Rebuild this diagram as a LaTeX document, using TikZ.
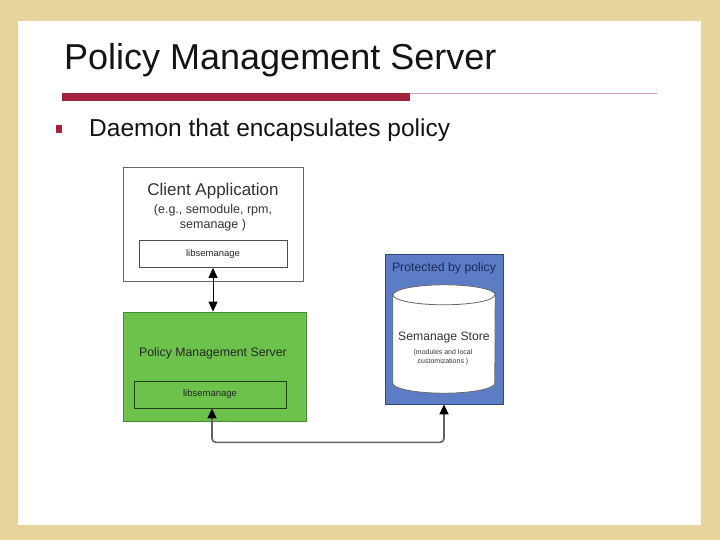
\documentclass[tikz,border=0pt]{standalone}
\usepackage{fontspec}
\setmainfont{Liberation Sans}
\usetikzlibrary{shapes.geometric, arrows.meta, positioning, calc}
\definecolor{paperBg}{HTML}{E9D49E}
\definecolor{slideRed}{HTML}{A2213F}
\definecolor{slideRule}{HTML}{C9A3AC}
\definecolor{pmsFill}{HTML}{6CC24A}
\definecolor{pmsStroke}{HTML}{4B8A35}
\definecolor{storeFill}{HTML}{5C7CC6}
\definecolor{storeStroke}{HTML}{34477A}
\definecolor{storeText}{HTML}{1C2A5C}
\tikzset{
  slide/.style = {
    every node/.append style={execute at begin node=\linespread{1}\selectfont},
    >=Stealth,
  },
  outerbox/.style = {
    rectangle, draw=black!60, line width=0.8pt, inner sep=0pt,
  },
  libbox/.style = {
    rectangle, draw=black!70, line width=0.8pt, inner sep=0pt,
    minimum height=27pt, font=\fontsize{9.5}{11}\selectfont, text=black!85,
  },
  caption/.style = {
    inner sep=0pt, align=center, text=black!80,
  },
  drum/.style = {draw=black!60, fill=white, line width=0.8pt},
  head/.tip = {Triangle[length=10pt, width=9pt, color=black]},
  link/.style = {head-head, line width=0.8pt, draw=black},
  backlink/.style = {head-head, line width=1.6pt, draw=black!62,
    rounded corners=4pt},
}

\begin{document}
\begin{tikzpicture}[slide, x=1pt, y=1pt]

% page and slide
\fill[paperBg] (0,0) rectangle (720,-540);
\fill[white] (18,-21) rectangle (701,-525);
\useasboundingbox (0,0) rectangle (720,-540);

% heading
\node[anchor=base west, inner sep=0pt, font=\fontsize{36}{40}\selectfont, text=black!92]
  (title) at (64,-70) {Policy Management Server};
\draw[slideRule, line width=1.5pt] (62,-93.5) -- (657,-93.5);
\fill[slideRed] (62,-93) rectangle (410,-101.5);
\node[fill=slideRed, minimum width=6pt, minimum height=8pt, inner sep=0pt]
  (dot) at (59,-129) {};
\node[anchor=base west, inner sep=0pt, font=\fontsize{24.5}{28}\selectfont, text=black!92]
  (point) at (89,-137) {Daemon that encapsulates policy};

% client application
\node[outerbox, fill=white, minimum width=180pt, minimum height=114pt]
  (client) at (213,-224) {};
\node[caption, font=\fontsize{17}{20}\selectfont] (ctitle) at (213,-191) {Client Application};
\node[caption, font=\fontsize{12.5}{15}\selectfont] (csub) at (213,-217.5)
  {(e.g., semodule, rpm,\\semanage )};
\node[libbox, minimum width=148pt] (clib) at (213,-254) {libsemanage};

% policy management server
\node[outerbox, draw=pmsStroke, fill=pmsFill, minimum width=183pt, minimum height=109pt]
  (pms) at (214.5,-366.5) {};
\node[caption, font=\fontsize{12.3}{15}\selectfont, text=black!85] (ptitle) at (213,-353)
  {Policy Management Server};
\node[libbox, draw=black!55!pmsStroke, minimum width=152pt] (plib) at (210,-394.5) {libsemanage};

% protected store
\node[outerbox, draw=storeStroke, fill=storeFill, minimum width=118pt, minimum height=150pt]
  (guard) at (444,-329) {};
\node[caption, font=\fontsize{12.3}{15}\selectfont, text=storeText] (gtitle) at (444,-268)
  {Protected by policy};
\node[minimum width=102pt, minimum height=88pt, inner sep=0pt] (store) at (444,-339) {};
\draw[drum] (store.north west) -- (store.south west)
  arc[start angle=180, end angle=360, x radius=51pt, y radius=10pt]
  -- (store.north east)
  arc[start angle=0, end angle=180, x radius=51pt, y radius=10pt] -- cycle;
\draw[drum, fill=none] (store.north west)
  arc[start angle=180, end angle=360, x radius=51pt, y radius=10pt];
\node[caption, font=\fontsize{12.2}{15}\selectfont] (stitle) at (444,-338) {Semanage Store};
\node[caption, font=\fontsize{7}{9.5}\selectfont] (ssub) at (443,-357)
  {(modules and local\\customizations )};

% connectors
\draw[link] (clib.south) -- (clib.south |- pms.north);
\coordinate (turn) at ($(plib.south)+(2,-34)$);
\draw[backlink] ($(plib.south)+(2,0)$) -- (turn) -| (guard.south);

\end{tikzpicture}
\end{document}
